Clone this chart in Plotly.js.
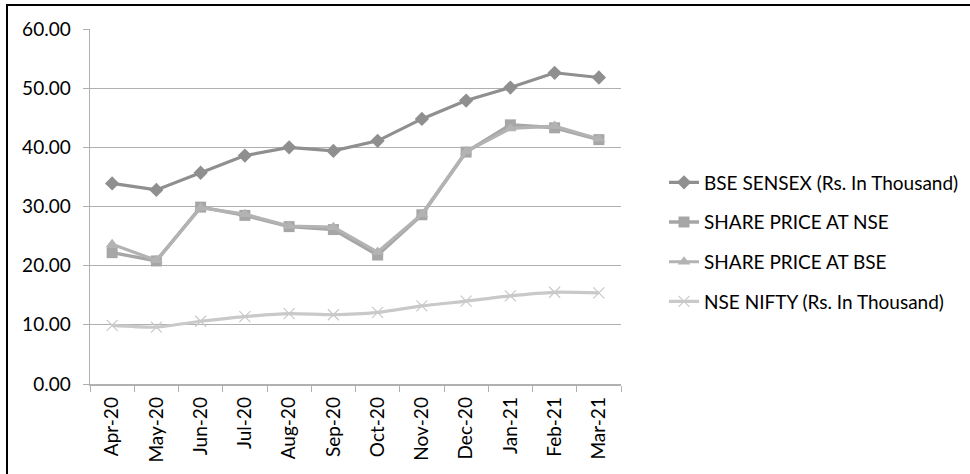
<!DOCTYPE html>
<html>
<head>
<meta charset="utf-8">
<script src="https://cdn.plot.ly/plotly-3.0.1.min.js"></script>
<style>
html,body{margin:0;padding:0;background:#fff;}
#wrap{position:relative;width:970px;height:474px;overflow:hidden;}
#chart{width:970px;height:474px;}
#frame{position:absolute;left:6px;top:4px;width:980px;height:490px;border-top:2px solid #000;border-left:2px solid #000;pointer-events:none;}
</style>
</head>
<body>
<div id="wrap"><div id="chart"></div><div id="frame"></div></div>
<script>
const months = ["Apr-20","May-20","Jun-20","Jul-20","Aug-20","Sep-20","Oct-20","Nov-20","Dec-20","Jan-21","Feb-21","Mar-21"];
const bseSensex = [33.9, 32.8, 35.7, 38.6, 40.0, 39.4, 41.1, 44.8, 47.9, 50.1, 52.6, 51.8];
const sharePriceNSE = [22.2, 20.8, 29.9, 28.5, 26.6, 26.1, 21.8, 28.6, 39.2, 43.8, 43.3, 41.3];
const sharePriceBSE = [23.6, 20.9, 29.8, 28.7, 26.7, 26.5, 22.3, 28.7, 39.3, 43.2, 43.6, 41.4];
const nseNifty = [9.9, 9.6, 10.6, 11.4, 11.9, 11.7, 12.1, 13.2, 14.0, 14.9, 15.5, 15.4];
const yTicks = [0, 10, 20, 30, 40, 50, 60];
const yTickText = ["0.00","10.00","20.00","30.00","40.00","50.00","60.00"];

const font = "Lato, 'Open Sans', sans-serif";
function tr(name, y, color, symbol, size, shape, group, lw) {
  return {
    x: months, y: y, name: name, type: "scatter", mode: "lines+markers",
    legendgroup: group,
    line: {color: color, width: lw, shape: shape, smoothing: 0.6},
    marker: {color: color, symbol: symbol, size: size, line: {color: color, width: symbol === "x-thin" ? 1.2 : 0}}
  };
}
const data = [
  tr("BSE SENSEX (Rs. In Thousand)", bseSensex, "#8f8f8f", "diamond", 11, "linear", "a", 3.2),
  tr("SHARE PRICE AT NSE", sharePriceNSE, "#a6a6a6", "square", 11, "linear", "b", 3.5),
  tr("SHARE PRICE AT BSE", sharePriceBSE, "#b3b3b3", "triangle-up", 11, "linear", "c", 3.2),
  tr("NSE NIFTY (Rs. In Thousand)", nseNifty, "#c9c9c9", "x-thin", 11, "spline", "d", 3.2)
];
const layout = {
  width: 970, height: 474,
  margin: {l: 90, r: 349, t: 29, b: 90, autoexpand: false},
  paper_bgcolor: "#fff", plot_bgcolor: "#fff",
  showlegend: true,
  legend: {x: 1.081, y: 0.40, xanchor: "left", yanchor: "middle",
    font: {family: font, size: 19, color: "#000"},
    traceorder: "grouped", tracegroupgap: 12, bgcolor: "rgba(0,0,0,0)"},
  xaxis: {
    type: "category", tickvals: months, ticktext: months,
    tickangle: -90, tickfont: {family: font, size: 19, color: "#000"},
    showgrid: false, showline: true, linecolor: "#b0b0b0", linewidth: 1.5,
    ticks: "outside", ticklen: 6, tickcolor: "#b0b0b0", tickson: "boundaries",
    ticklabelstandoff: 4,
    range: [-0.5, 11.5], zeroline: false, fixedrange: true
  },
  yaxis: {
    range: [0, 60], tickvals: yTicks, ticktext: yTickText,
    tickfont: {family: font, size: 19, color: "#000"},
    showgrid: true, gridcolor: "#b0b0b0", gridwidth: 1.2,
    showline: true, linecolor: "#b0b0b0", linewidth: 1.5,
    ticks: "outside", ticklen: 6, tickcolor: "#b0b0b0",
    ticklabelstandoff: 8,
    zeroline: false, fixedrange: true
  }
};
Plotly.newPlot("chart", data, layout, {displayModeBar: false, staticPlot: true});
</script>
</body>
</html>
